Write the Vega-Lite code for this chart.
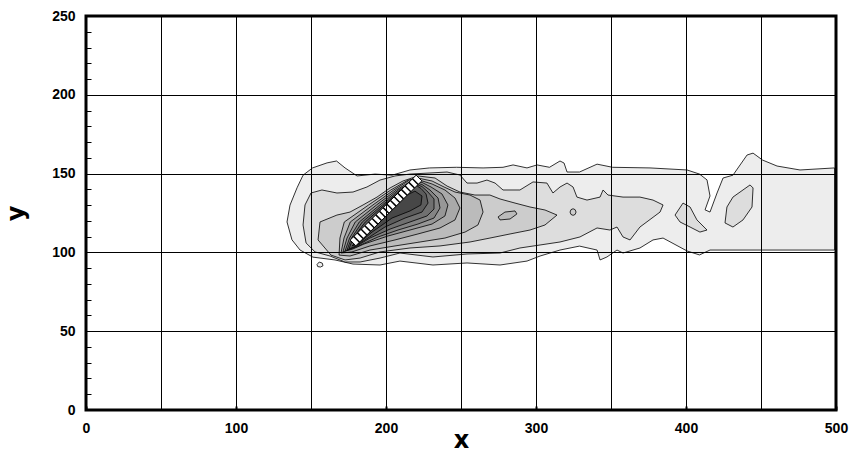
{
  "$schema": "https://vega.github.io/schema/vega-lite/v6.json",
  "width": 750,
  "height": 394,
  "autosize": "none",
  "padding": {"left": 86, "top": 16, "right": 16, "bottom": 43},
  "background": "white",
  "config": {"view": {"stroke": "black", "strokeWidth": 3}},
  "datasets": {
    "contours": [
      {"p":"p01","l":1,"i":0,"x":134,"y":119.3},{"p":"p01","l":1,"i":1,"x":136,"y":130},{"p":"p01","l":1,"i":2,"x":140.7,"y":141},{"p":"p01","l":1,"i":3,"x":144.7,"y":149},{"p":"p01","l":1,"i":4,"x":151,"y":153.6},{"p":"p01","l":1,"i":5,"x":160.7,"y":156.8},{"p":"p01","l":1,"i":6,"x":167,"y":158},{"p":"p01","l":1,"i":7,"x":172.7,"y":153.6},{"p":"p01","l":1,"i":8,"x":180.7,"y":148.5},{"p":"p01","l":1,"i":9,"x":192.7,"y":149.7},{"p":"p01","l":1,"i":10,"x":204,"y":149},{"p":"p01","l":1,"i":11,"x":216,"y":152.3},{"p":"p01","l":1,"i":12,"x":229,"y":153.6},{"p":"p01","l":1,"i":13,"x":247,"y":154},{"p":"p01","l":1,"i":14,"x":264.7,"y":153.6},{"p":"p01","l":1,"i":15,"x":278,"y":154},{"p":"p01","l":1,"i":16,"x":284.7,"y":155.5},{"p":"p01","l":1,"i":17,"x":294,"y":153.6},{"p":"p01","l":1,"i":18,"x":300.7,"y":155.5},{"p":"p01","l":1,"i":19,"x":309,"y":154},{"p":"p01","l":1,"i":20,"x":316,"y":158},{"p":"p01","l":1,"i":21,"x":318.7,"y":156.7},{"p":"p01","l":1,"i":22,"x":320.7,"y":151},{"p":"p01","l":1,"i":23,"x":329,"y":151},{"p":"p01","l":1,"i":24,"x":340.7,"y":156},{"p":"p01","l":1,"i":25,"x":351,"y":154},{"p":"p01","l":1,"i":26,"x":376,"y":153.6},{"p":"p01","l":1,"i":27,"x":400.7,"y":152.3},{"p":"p01","l":1,"i":28,"x":409,"y":149.7},{"p":"p01","l":1,"i":29,"x":414,"y":146},{"p":"p01","l":1,"i":30,"x":416,"y":135.8},{"p":"p01","l":1,"i":31,"x":412.7,"y":127},{"p":"p01","l":1,"i":32,"x":416,"y":125.6},{"p":"p01","l":1,"i":33,"x":420.7,"y":137.7},{"p":"p01","l":1,"i":34,"x":424.7,"y":147.2},{"p":"p01","l":1,"i":35,"x":431.3,"y":149},{"p":"p01","l":1,"i":36,"x":440.7,"y":161.8},{"p":"p01","l":1,"i":37,"x":444.7,"y":163},{"p":"p01","l":1,"i":38,"x":451,"y":158.6},{"p":"p01","l":1,"i":39,"x":460.7,"y":154.8},{"p":"p01","l":1,"i":40,"x":476,"y":152.3},{"p":"p01","l":1,"i":41,"x":499,"y":153.6},{"p":"p01","l":1,"i":42,"x":499,"y":101.5},{"p":"p01","l":1,"i":43,"x":451,"y":101.5},{"p":"p01","l":1,"i":44,"x":416,"y":101.5},{"p":"p01","l":1,"i":45,"x":409,"y":98.4},{"p":"p01","l":1,"i":46,"x":400.7,"y":100.9},{"p":"p01","l":1,"i":47,"x":384.7,"y":109.1},{"p":"p01","l":1,"i":48,"x":378,"y":107.9},{"p":"p01","l":1,"i":49,"x":369.3,"y":102.8},{"p":"p01","l":1,"i":50,"x":358,"y":99.6},{"p":"p01","l":1,"i":51,"x":354,"y":101.5},{"p":"p01","l":1,"i":52,"x":347.3,"y":97.1},{"p":"p01","l":1,"i":53,"x":342.7,"y":95.2},{"p":"p01","l":1,"i":54,"x":340.7,"y":101.5},{"p":"p01","l":1,"i":55,"x":329,"y":104},{"p":"p01","l":1,"i":56,"x":316,"y":101.5},{"p":"p01","l":1,"i":57,"x":302.7,"y":97.7},{"p":"p01","l":1,"i":58,"x":294,"y":94.5},{"p":"p01","l":1,"i":59,"x":276,"y":92},{"p":"p01","l":1,"i":60,"x":254,"y":93.3},{"p":"p01","l":1,"i":61,"x":231.3,"y":92},{"p":"p01","l":1,"i":62,"x":209.3,"y":94.5},{"p":"p01","l":1,"i":63,"x":196,"y":92},{"p":"p01","l":1,"i":64,"x":178,"y":92.6},{"p":"p01","l":1,"i":65,"x":166,"y":95.2},{"p":"p01","l":1,"i":66,"x":151.3,"y":97},{"p":"p01","l":1,"i":67,"x":142.7,"y":101.5},{"p":"p01","l":1,"i":68,"x":137.3,"y":108},{"p":"p01","l":1,"i":69,"x":134,"y":119.3},

      {"p":"p02","l":1,"i":0,"x":154,"y":92.3},{"p":"p02","l":1,"i":1,"x":155.5,"y":93.9},{"p":"p02","l":1,"i":2,"x":157.5,"y":93.2},{"p":"p02","l":1,"i":3,"x":158,"y":91.5},{"p":"p02","l":1,"i":4,"x":156.3,"y":90.7},{"p":"p02","l":1,"i":5,"x":154.5,"y":91},{"p":"p02","l":1,"i":6,"x":154,"y":92.3},

      {"p":"p03","l":2,"i":0,"x":144.7,"y":117.4},{"p":"p03","l":2,"i":1,"x":146,"y":130.1},{"p":"p03","l":2,"i":2,"x":150,"y":137.7},{"p":"p03","l":2,"i":3,"x":157.3,"y":139.6},{"p":"p03","l":2,"i":4,"x":167.3,"y":137.7},{"p":"p03","l":2,"i":5,"x":178,"y":138.3},{"p":"p03","l":2,"i":6,"x":187.3,"y":141.5},{"p":"p03","l":2,"i":7,"x":196,"y":145.9},{"p":"p03","l":2,"i":8,"x":206,"y":148.5},{"p":"p03","l":2,"i":9,"x":216,"y":149.7},{"p":"p03","l":2,"i":10,"x":229.3,"y":150.4},{"p":"p03","l":2,"i":11,"x":240.7,"y":151},{"p":"p03","l":2,"i":12,"x":249.3,"y":149.1},{"p":"p03","l":2,"i":13,"x":254,"y":144},{"p":"p03","l":2,"i":14,"x":260.7,"y":144},{"p":"p03","l":2,"i":15,"x":267.3,"y":145.9},{"p":"p03","l":2,"i":16,"x":272.7,"y":144},{"p":"p03","l":2,"i":17,"x":278,"y":139.6},{"p":"p03","l":2,"i":18,"x":289.3,"y":139.6},{"p":"p03","l":2,"i":19,"x":298,"y":144.7},{"p":"p03","l":2,"i":20,"x":307.3,"y":144},{"p":"p03","l":2,"i":21,"x":311.3,"y":137.7},{"p":"p03","l":2,"i":22,"x":316,"y":141.5},{"p":"p03","l":2,"i":23,"x":320.7,"y":144},{"p":"p03","l":2,"i":24,"x":324.7,"y":141.5},{"p":"p03","l":2,"i":25,"x":327.3,"y":135.1},{"p":"p03","l":2,"i":26,"x":334,"y":133.2},{"p":"p03","l":2,"i":27,"x":342.7,"y":135.1},{"p":"p03","l":2,"i":28,"x":344.7,"y":139.6},{"p":"p03","l":2,"i":29,"x":348,"y":136.4},{"p":"p03","l":2,"i":30,"x":358,"y":135.1},{"p":"p03","l":2,"i":31,"x":369.3,"y":135.1},{"p":"p03","l":2,"i":32,"x":378,"y":133.2},{"p":"p03","l":2,"i":33,"x":384.7,"y":130.1},{"p":"p03","l":2,"i":34,"x":382.7,"y":125.6},{"p":"p03","l":2,"i":35,"x":369.3,"y":116.1},{"p":"p03","l":2,"i":36,"x":362.7,"y":107.9},{"p":"p03","l":2,"i":37,"x":358,"y":109.8},{"p":"p03","l":2,"i":38,"x":354,"y":116.1},{"p":"p03","l":2,"i":39,"x":349.3,"y":114.2},{"p":"p03","l":2,"i":40,"x":340.7,"y":115.5},{"p":"p03","l":2,"i":41,"x":329.3,"y":109.8},{"p":"p03","l":2,"i":42,"x":316,"y":106.6},{"p":"p03","l":2,"i":43,"x":302.7,"y":104.7},{"p":"p03","l":2,"i":44,"x":289.3,"y":102.8},{"p":"p03","l":2,"i":45,"x":276,"y":99.6},{"p":"p03","l":2,"i":46,"x":254,"y":99},{"p":"p03","l":2,"i":47,"x":231.3,"y":97.1},{"p":"p03","l":2,"i":48,"x":209.3,"y":99.6},{"p":"p03","l":2,"i":49,"x":196,"y":96.4},{"p":"p03","l":2,"i":50,"x":182.7,"y":93.9},{"p":"p03","l":2,"i":51,"x":172.7,"y":93.9},{"p":"p03","l":2,"i":52,"x":162.7,"y":97.7},{"p":"p03","l":2,"i":53,"x":152.7,"y":100.3},{"p":"p03","l":2,"i":54,"x":146.7,"y":106},{"p":"p03","l":2,"i":55,"x":144.7,"y":117.4},

      {"p":"p04","l":2,"i":0,"x":392.7,"y":123.7},{"p":"p04","l":2,"i":1,"x":398,"y":131.3},{"p":"p04","l":2,"i":2,"x":402.7,"y":128.8},{"p":"p04","l":2,"i":3,"x":407.3,"y":120.6},{"p":"p04","l":2,"i":4,"x":414,"y":114.2},{"p":"p04","l":2,"i":5,"x":409.3,"y":112.9},{"p":"p04","l":2,"i":6,"x":402.7,"y":116.1},{"p":"p04","l":2,"i":7,"x":396,"y":119.3},{"p":"p04","l":2,"i":8,"x":392.7,"y":123.7},

      {"p":"p05","l":2,"i":0,"x":426,"y":118.7},{"p":"p05","l":2,"i":1,"x":427.3,"y":128.8},{"p":"p05","l":2,"i":2,"x":431.3,"y":135.1},{"p":"p05","l":2,"i":3,"x":442.7,"y":142.8},{"p":"p05","l":2,"i":4,"x":444.7,"y":140.9},{"p":"p05","l":2,"i":5,"x":444,"y":128.8},{"p":"p05","l":2,"i":6,"x":438,"y":120.6},{"p":"p05","l":2,"i":7,"x":431.3,"y":116.1},{"p":"p05","l":2,"i":8,"x":426,"y":118.7},

      {"p":"p06","l":3,"i":0,"x":154.7,"y":107.9},{"p":"p06","l":3,"i":1,"x":156,"y":119.3},{"p":"p06","l":3,"i":2,"x":167.3,"y":123.7},{"p":"p06","l":3,"i":3,"x":176,"y":125.6},{"p":"p06","l":3,"i":4,"x":184.7,"y":130.1},{"p":"p06","l":3,"i":5,"x":194,"y":135.1},{"p":"p06","l":3,"i":6,"x":202.7,"y":140.9},{"p":"p06","l":3,"i":7,"x":211.3,"y":145.3},{"p":"p06","l":3,"i":8,"x":221.3,"y":148.5},{"p":"p06","l":3,"i":9,"x":232.7,"y":147.2},{"p":"p06","l":3,"i":10,"x":240.7,"y":142.1},{"p":"p06","l":3,"i":11,"x":249.3,"y":138.3},{"p":"p06","l":3,"i":12,"x":259.3,"y":136.4},{"p":"p06","l":3,"i":13,"x":269.3,"y":136.4},{"p":"p06","l":3,"i":14,"x":276,"y":133.9},{"p":"p06","l":3,"i":15,"x":286,"y":131.3},{"p":"p06","l":3,"i":16,"x":296,"y":128.8},{"p":"p06","l":3,"i":17,"x":306,"y":126.9},{"p":"p06","l":3,"i":18,"x":314,"y":123.7},{"p":"p06","l":3,"i":19,"x":306,"y":117.4},{"p":"p06","l":3,"i":20,"x":296,"y":114.2},{"p":"p06","l":3,"i":21,"x":282.7,"y":111.7},{"p":"p06","l":3,"i":22,"x":269.3,"y":109.1},{"p":"p06","l":3,"i":23,"x":256,"y":106.6},{"p":"p06","l":3,"i":24,"x":236,"y":104.1},{"p":"p06","l":3,"i":25,"x":216,"y":102.8},{"p":"p06","l":3,"i":26,"x":196,"y":100.3},{"p":"p06","l":3,"i":27,"x":182.7,"y":96.4},{"p":"p06","l":3,"i":28,"x":172.7,"y":95.2},{"p":"p06","l":3,"i":29,"x":163.3,"y":98.3},{"p":"p06","l":3,"i":30,"x":154.7,"y":107.9},

      {"p":"p07","l":3,"i":0,"x":322.7,"y":125.6},{"p":"p07","l":3,"i":1,"x":323.3,"y":127.1},{"p":"p07","l":3,"i":2,"x":324.7,"y":127.7},{"p":"p07","l":3,"i":3,"x":326.1,"y":127.1},{"p":"p07","l":3,"i":4,"x":326.7,"y":125.6},{"p":"p07","l":3,"i":5,"x":326.1,"y":124.1},{"p":"p07","l":3,"i":6,"x":324.7,"y":123.5},{"p":"p07","l":3,"i":7,"x":323.3,"y":124.1},{"p":"p07","l":3,"i":8,"x":322.7,"y":125.6},

      {"p":"p08","l":4,"i":0,"x":168.7,"y":98.3},{"p":"p08","l":4,"i":1,"x":169.3,"y":109.1},{"p":"p08","l":4,"i":2,"x":172.2,"y":119.3},{"p":"p08","l":4,"i":3,"x":188.4,"y":130.1},{"p":"p08","l":4,"i":4,"x":203.2,"y":139.6},{"p":"p08","l":4,"i":5,"x":214.7,"y":145.9},{"p":"p08","l":4,"i":6,"x":222.7,"y":146.9},{"p":"p08","l":4,"i":7,"x":230.7,"y":145.3},{"p":"p08","l":4,"i":8,"x":238.7,"y":141.5},{"p":"p08","l":4,"i":9,"x":246,"y":138.3},{"p":"p08","l":4,"i":10,"x":256,"y":136.4},{"p":"p08","l":4,"i":11,"x":262.7,"y":133.2},{"p":"p08","l":4,"i":12,"x":264.7,"y":125.6},{"p":"p08","l":4,"i":13,"x":261.3,"y":117.4},{"p":"p08","l":4,"i":14,"x":252.7,"y":112.9},{"p":"p08","l":4,"i":15,"x":239.3,"y":109.1},{"p":"p08","l":4,"i":16,"x":222.7,"y":106.6},{"p":"p08","l":4,"i":17,"x":206,"y":104.1},{"p":"p08","l":4,"i":18,"x":189.3,"y":101.5},{"p":"p08","l":4,"i":19,"x":176,"y":97.7},{"p":"p08","l":4,"i":20,"x":168.7,"y":98.3},

      {"p":"p09","l":4,"i":0,"x":274.7,"y":122.5},{"p":"p09","l":4,"i":1,"x":279.3,"y":125.6},{"p":"p09","l":4,"i":2,"x":286,"y":126.3},{"p":"p09","l":4,"i":3,"x":287.3,"y":124.4},{"p":"p09","l":4,"i":4,"x":282.7,"y":121.2},{"p":"p09","l":4,"i":5,"x":276,"y":120.6},{"p":"p09","l":4,"i":6,"x":274.7,"y":122.5},

      {"p":"p10","l":5,"i":0,"x":170,"y":99.6},{"p":"p10","l":5,"i":1,"x":172,"y":109.1},{"p":"p10","l":5,"i":2,"x":176.2,"y":119.3},{"p":"p10","l":5,"i":3,"x":191.3,"y":130.1},{"p":"p10","l":5,"i":4,"x":205.2,"y":139.6},{"p":"p10","l":5,"i":5,"x":215.7,"y":145.9},{"p":"p10","l":5,"i":6,"x":223.3,"y":145.6},{"p":"p10","l":5,"i":7,"x":230.7,"y":143.4},{"p":"p10","l":5,"i":8,"x":239.3,"y":139.6},{"p":"p10","l":5,"i":9,"x":246,"y":134.5},{"p":"p10","l":5,"i":10,"x":249.3,"y":128.2},{"p":"p10","l":5,"i":11,"x":246,"y":120.6},{"p":"p10","l":5,"i":12,"x":236,"y":115.5},{"p":"p10","l":5,"i":13,"x":221.3,"y":111.7},{"p":"p10","l":5,"i":14,"x":206,"y":107.9},{"p":"p10","l":5,"i":15,"x":189.3,"y":104.1},{"p":"p10","l":5,"i":16,"x":177.3,"y":100.3},{"p":"p10","l":5,"i":17,"x":170,"y":99.6},

      {"p":"p11","l":6,"i":0,"x":171.3,"y":100.3},{"p":"p11","l":6,"i":1,"x":174,"y":109.1},{"p":"p11","l":6,"i":2,"x":179.5,"y":119.3},{"p":"p11","l":6,"i":3,"x":193.7,"y":130.1},{"p":"p11","l":6,"i":4,"x":206.9,"y":139.6},{"p":"p11","l":6,"i":5,"x":216.7,"y":145.3},{"p":"p11","l":6,"i":6,"x":224,"y":144.4},{"p":"p11","l":6,"i":7,"x":230,"y":141.5},{"p":"p11","l":6,"i":8,"x":237.3,"y":137.1},{"p":"p11","l":6,"i":9,"x":241.3,"y":130.1},{"p":"p11","l":6,"i":10,"x":239.3,"y":123.1},{"p":"p11","l":6,"i":11,"x":230.7,"y":118},{"p":"p11","l":6,"i":12,"x":216,"y":114.2},{"p":"p11","l":6,"i":13,"x":201.3,"y":110.4},{"p":"p11","l":6,"i":14,"x":185.3,"y":105.3},{"p":"p11","l":6,"i":15,"x":178,"y":102.2},{"p":"p11","l":6,"i":16,"x":171.3,"y":100.3},

      {"p":"p12","l":7,"i":0,"x":172.7,"y":100.9},{"p":"p12","l":7,"i":1,"x":175.7,"y":109.1},{"p":"p12","l":7,"i":2,"x":182.2,"y":119.3},{"p":"p12","l":7,"i":3,"x":195.9,"y":130.1},{"p":"p12","l":7,"i":4,"x":208.3,"y":139.6},{"p":"p12","l":7,"i":5,"x":217.3,"y":144.7},{"p":"p12","l":7,"i":6,"x":224,"y":143.1},{"p":"p12","l":7,"i":7,"x":229.3,"y":139.6},{"p":"p12","l":7,"i":8,"x":234.7,"y":134.5},{"p":"p12","l":7,"i":9,"x":236,"y":128.2},{"p":"p12","l":7,"i":10,"x":232,"y":121.8},{"p":"p12","l":7,"i":11,"x":221.3,"y":118},{"p":"p12","l":7,"i":12,"x":208,"y":114.2},{"p":"p12","l":7,"i":13,"x":194.7,"y":109.8},{"p":"p12","l":7,"i":14,"x":180,"y":103.4},{"p":"p12","l":7,"i":15,"x":172.7,"y":100.9},

      {"p":"p13","l":8,"i":0,"x":174,"y":101.5},{"p":"p13","l":8,"i":1,"x":177,"y":109.1},{"p":"p13","l":8,"i":2,"x":184.2,"y":119.3},{"p":"p13","l":8,"i":3,"x":197.6,"y":130.1},{"p":"p13","l":8,"i":4,"x":209.5,"y":139.6},{"p":"p13","l":8,"i":5,"x":218,"y":144},{"p":"p13","l":8,"i":6,"x":224,"y":141.8},{"p":"p13","l":8,"i":7,"x":228,"y":138.3},{"p":"p13","l":8,"i":8,"x":232,"y":133.9},{"p":"p13","l":8,"i":9,"x":232,"y":127.5},{"p":"p13","l":8,"i":10,"x":227.3,"y":123.1},{"p":"p13","l":8,"i":11,"x":216,"y":119.3},{"p":"p13","l":8,"i":12,"x":202.7,"y":114.8},{"p":"p13","l":8,"i":13,"x":189.3,"y":109.1},{"p":"p13","l":8,"i":14,"x":180.7,"y":104.1},{"p":"p13","l":8,"i":15,"x":174,"y":101.5},

      {"p":"p14","l":9,"i":0,"x":175.3,"y":102.2},{"p":"p14","l":9,"i":1,"x":178,"y":109.1},{"p":"p14","l":9,"i":2,"x":186.2,"y":119.3},{"p":"p14","l":9,"i":3,"x":198.9,"y":130.1},{"p":"p14","l":9,"i":4,"x":210.5,"y":139.6},{"p":"p14","l":9,"i":5,"x":218.7,"y":143.4},{"p":"p14","l":9,"i":6,"x":223.3,"y":140.6},{"p":"p14","l":9,"i":7,"x":226.7,"y":137.1},{"p":"p14","l":9,"i":8,"x":228,"y":131.3},{"p":"p14","l":9,"i":9,"x":224,"y":125.6},{"p":"p14","l":9,"i":10,"x":212.7,"y":121.8},{"p":"p14","l":9,"i":11,"x":199.3,"y":116.1},{"p":"p14","l":9,"i":12,"x":186,"y":107.9},{"p":"p14","l":9,"i":13,"x":180,"y":104.1},{"p":"p14","l":9,"i":14,"x":175.3,"y":102.2},

      {"p":"p15","l":10,"i":0,"x":177.3,"y":104.1},{"p":"p15","l":10,"i":1,"x":186,"y":111.7},{"p":"p15","l":10,"i":2,"x":199.3,"y":123.1},{"p":"p15","l":10,"i":3,"x":212.7,"y":135.8},{"p":"p15","l":10,"i":4,"x":219.3,"y":138.9},{"p":"p15","l":10,"i":5,"x":224,"y":135.8},{"p":"p15","l":10,"i":6,"x":223.3,"y":130.1},{"p":"p15","l":10,"i":7,"x":216,"y":126.3},{"p":"p15","l":10,"i":8,"x":204,"y":121.8},{"p":"p15","l":10,"i":9,"x":190.7,"y":112.9},{"p":"p15","l":10,"i":10,"x":181.3,"y":105.3},{"p":"p15","l":10,"i":11,"x":177.3,"y":104.1}
    ],
    "plate": [
      {"i":0,"x":179.9,"y":104.2},{"i":1,"x":223.9,"y":145.4},{"i":2,"x":220.1,"y":149.0},{"i":3,"x":176.1,"y":107.8},{"i":4,"x":179.9,"y":104.2}
    ],
    "stripes": [
      {"x":182.34,"y":106.49,"x2":178.54,"y2":110.09},
      {"x":184.79,"y":108.78,"x2":180.99,"y2":112.38},
      {"x":187.23,"y":111.07,"x2":183.43,"y2":114.67},
      {"x":189.68,"y":113.36,"x2":185.88,"y2":116.96},
      {"x":192.12,"y":115.65,"x2":188.32,"y2":119.25},
      {"x":194.56,"y":117.93,"x2":190.76,"y2":121.53},
      {"x":197.01,"y":120.22,"x2":193.21,"y2":123.82},
      {"x":199.45,"y":122.51,"x2":195.65,"y2":126.11},
      {"x":201.9,"y":124.8,"x2":198.1,"y2":128.4},
      {"x":204.34,"y":127.09,"x2":200.54,"y2":130.69},
      {"x":206.78,"y":129.38,"x2":202.98,"y2":132.98},
      {"x":209.23,"y":131.67,"x2":205.43,"y2":135.27},
      {"x":211.67,"y":133.96,"x2":207.87,"y2":137.56},
      {"x":214.12,"y":136.25,"x2":210.32,"y2":139.85},
      {"x":216.56,"y":138.53,"x2":212.76,"y2":142.13},
      {"x":219.01,"y":140.82,"x2":215.21,"y2":144.42},
      {"x":221.45,"y":143.11,"x2":217.65,"y2":146.71}
    ]
  },
  "encoding": {
    "x": {
      "field": "x", "type": "quantitative",
      "scale": {"domain": [0, 500], "nice": false, "zero": false},
      "axis": {
        "values": [0, 50, 100, 150, 200, 250, 300, 350, 400, 450, 500],
        "zindex": 1,
        "domain": false,
        "grid": true, "gridColor": "black", "gridWidth": 1, "gridOpacity": 1,
        "ticks": true, "tickColor": "black", "tickWidth": 2,
        "tickSize": {"condition": {"test": "datum.value % 100 === 0", "value": -4}, "value": 0},
        "labelExpr": "datum.value % 100 === 0 ? datum.label : ''",
        "labelFlush": false, "labelOverlap": false,
        "labelFont": "Liberation Sans", "labelFontWeight": "bold", "labelFontSize": 14, "labelColor": "black",
        "labelPadding": 15,
        "title": "x", "titleFont": "DejaVu Sans", "titleFontWeight": "bold", "titleFontSize": 24, "titleColor": "black",
        "titleY": 37, "titleBaseline": "alphabetic"
      }
    },
    "y": {
      "field": "y", "type": "quantitative",
      "scale": {"domain": [0, 250], "nice": false, "zero": false},
      "axis": {
        "values": [0, 10, 20, 30, 40, 50, 60, 70, 80, 90, 100, 110, 120, 130, 140, 150, 160, 170, 180, 190, 200, 210, 220, 230, 240, 250],
        "zindex": 1,
        "domain": false,
        "grid": true, "gridColor": "black", "gridWidth": 1,
        "gridOpacity": {"condition": {"test": "datum.value % 50 === 0", "value": 1}, "value": 0},
        "ticks": true, "tickColor": "black", "tickWidth": 1,
        "tickSize": {"condition": {"test": "datum.value % 50 === 0", "value": -10}, "value": -5},
        "labelExpr": "datum.value % 50 === 0 ? datum.label : ''",
        "labelFlush": false, "labelOverlap": false,
        "labelFont": "Liberation Sans", "labelFontWeight": "bold", "labelFontSize": 14, "labelColor": "black",
        "labelPadding": 21,
        "title": "y", "titleFont": "DejaVu Sans", "titleFontWeight": "bold", "titleFontSize": 24, "titleColor": "black",
        "titleAngle": 270, "titleX": -63, "titleY": 197, "titleAlign": "center", "titleBaseline": "alphabetic"
      }
    }
  },
  "layer": [
    {
      "data": {"name": "contours"},
      "mark": {"type": "line", "filled": true, "stroke": "black", "strokeWidth": 0.8, "strokeJoin": "round"},
      "encoding": {
        "detail": {"field": "p"},
        "order": {"field": "i", "type": "quantitative"},
        "color": {
          "field": "l", "type": "ordinal",
          "scale": {"domain": [1, 2, 3, 4, 5, 6, 7, 8, 9, 10], "range": ["#ededed", "#dddddd", "#cccccc", "#bbbbbb", "#a9a9a9", "#979797", "#848484", "#707070", "#5c5c5c", "#474747"]},
          "legend": null
        }
      }
    },
    {
      "data": {"name": "plate"},
      "mark": {"type": "line", "filled": true, "fill": "white", "stroke": "black", "strokeWidth": 1},
      "encoding": {"order": {"field": "i", "type": "quantitative"}}
    },
    {
      "data": {"name": "stripes"},
      "mark": {"type": "rule", "stroke": "black", "strokeWidth": 1.5},
      "encoding": {"x2": {"field": "x2"}, "y2": {"field": "y2"}}
    }
  ]
}
